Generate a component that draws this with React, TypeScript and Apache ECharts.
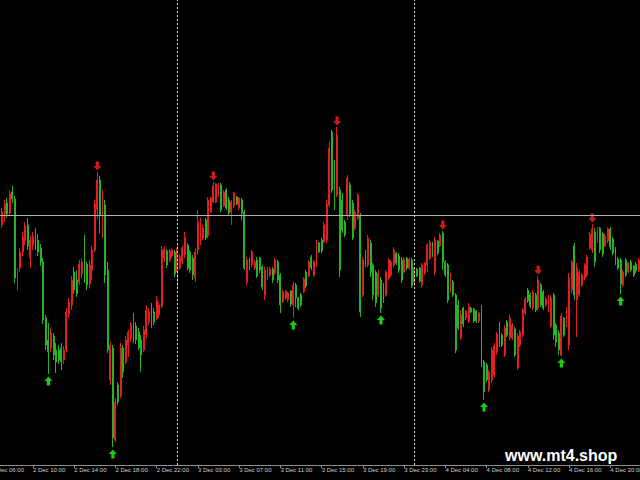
import React, { useEffect, useRef } from "react";
import * as echarts from "echarts";

// ---- Data (M15 bars, prices in points) ----
const opens = [
  237,243,236,233,240,251,262,252,273,266,
  182,197,213,225,240,207,220,229,225,217,
  203,147,125,117,129,115,115,117,105,115,
  151,160,193,185,183,191,217,201,181,195,
  215,255,285,233,260,195,85,117,25,80,
  69,117,103,120,127,149,139,133,125,115,
  130,143,159,153,147,150,159,207,214,205,
  209,213,193,197,203,210,220,213,207,187,
  215,225,227,245,229,253,263,263,269,280,
  259,275,265,253,259,268,257,265,253,183,
  205,200,197,205,207,198,170,187,190,196,
  192,203,190,163,167,165,174,160,180,167,
  170,173,193,189,208,190,200,222,225,223,
  225,260,333,300,270,275,265,243,250,280,
  262,237,247,250,170,213,200,222,200,193,
  170,185,178,170,187,190,200,212,209,205,
  193,207,197,205,183,196,197,180,192,200,
  207,222,193,224,219,232,203,200,173,183,
  170,160,127,157,147,144,157,156,154,144,
  158,103,100,75,85,90,113,140,130,110,
  143,127,127,136,97,120,130,152,175,170,
  157,170,157,180,173,160,155,139,170,140,
  132,110,147,140,120,175,219,165,170,180,
  187,190,217,215,233,223,237,231,219,224,
  236,226,216,206,205,180,205,193,203,199,
  201,195,
];
const closes = [
  243,236,241,247,253,261,251,271,266,187,
  193,213,228,239,219,225,229,219,213,203,
  145,120,113,132,110,103,105,103,115,153,
  163,185,175,171,201,203,193,180,200,215,
  261,285,250,265,190,115,120,27,63,63,
  117,93,125,133,140,127,125,117,110,135,
  155,153,140,143,165,160,215,216,200,214,
  215,191,217,208,217,227,197,195,190,213,
  243,239,237,227,265,267,279,281,280,255,
  273,257,252,263,272,261,267,252,197,205,
  197,213,203,189,195,178,195,197,196,185,
  205,185,160,173,174,172,161,180,167,157,
  160,186,179,203,197,203,223,213,214,240,
  261,317,275,260,330,195,235,230,287,250,
  227,253,270,153,205,200,227,193,170,162,
  191,157,165,193,205,203,215,202,195,185,
  206,197,206,179,197,189,184,200,202,220,
  223,210,225,212,230,203,190,165,189,170,
  115,137,150,141,154,159,153,144,144,152,
  103,73,85,93,115,119,131,120,120,137,
  130,147,140,110,129,133,155,166,164,159,
  173,155,185,160,157,166,168,167,130,123,
  115,149,130,156,187,203,170,197,193,190,
  200,208,231,236,203,235,215,211,229,236,
  218,212,202,197,181,193,190,202,195,190,
  194,205,
];
const lows = [
  233,232,231,229,237,243,247,249,262,182,
  175,193,209,220,215,197,215,215,209,199,
  141,115,91,113,105,92,101,95,101,113,
  147,155,171,168,180,187,182,175,177,185,
  213,247,232,227,182,112,80,18,23,60,
  67,87,101,108,123,122,121,115,93,113,
  127,140,137,140,145,147,157,203,197,203,
  207,188,177,195,201,207,195,192,185,183,
  210,220,225,225,227,252,262,262,268,253,
  258,255,250,240,257,260,255,245,195,180,
  195,198,195,187,192,175,165,185,188,182,
  190,182,152,162,165,163,158,147,158,155,
  158,172,177,188,195,188,198,212,212,222,
  222,258,272,255,268,188,232,228,245,248,
  225,235,245,148,168,198,198,188,165,158,
  168,152,162,168,185,188,198,200,192,182,
  192,195,195,177,182,188,182,177,190,193,
  205,208,190,210,218,195,188,162,172,168,
  112,135,125,138,145,142,152,142,142,142,
  98,65,83,73,82,88,110,118,118,108,
  128,125,125,108,95,118,128,150,162,157,
  155,153,155,158,155,158,153,137,125,118,
  110,109,128,138,115,172,165,128,168,178,
  185,188,215,212,198,222,212,208,218,222,
  215,210,200,195,171,178,188,192,193,188,
  192,193,
];
const highs = [
  246,246,244,251,257,265,267,275,279,269,
  197,217,233,243,247,229,233,237,231,221,
  207,150,142,137,132,122,120,122,119,157,
  167,189,198,195,205,207,230,203,205,219,
  265,293,289,275,265,203,123,120,67,83,
  122,120,129,135,143,152,143,137,130,139,
  160,157,162,157,169,163,219,219,216,216,
  217,215,222,211,219,233,222,215,210,217,
  255,247,240,247,268,268,283,282,282,282,
  275,277,268,265,273,269,268,267,255,208,
  207,215,205,208,208,200,198,198,198,198,
  207,205,192,175,175,173,175,183,182,168,
  172,188,195,205,210,205,225,223,227,243,
  265,323,335,305,338,278,272,245,290,283,
  265,255,272,252,208,215,230,225,202,195,
  195,188,182,195,207,205,218,213,212,208,
  208,208,207,207,198,197,198,202,203,222,
  225,223,228,225,232,234,205,202,192,185,
  172,165,155,158,155,162,158,157,155,153,
  160,105,102,95,118,122,133,143,132,140,
  145,150,142,138,132,135,157,168,177,172,
  175,172,189,182,175,168,170,170,172,142,
  135,152,148,158,192,205,222,202,195,192,
  202,210,233,241,237,238,238,233,232,238,
  238,228,218,208,207,195,207,203,205,200,
  203,207,
];
// indicator signals: bar indices of buy (up arrow) and sell (down arrow)
const buySignals = [22, 47, 117, 151, 191, 221, 244];
const sellSignals = [41, 86, 134, 175, 212, 233];
// horizontal level line
const levelLine = 250;
// time axis
const startDay = 2;
const startHour = 6;
const monthName = "Dec";
const barMinutes = 15;
const labelEvery = 16;

const pad = (n: number) => (n < 10 ? "0" + n : "" + n);

function buildCategories(n: number): string[] {
  const out: string[] = [];
  let day = startDay;
  let minutes = startHour * 60;
  for (let i = 0; i < n; i++) {
    out.push(`${day} ${monthName} ${pad(Math.floor(minutes / 60))}:${pad(minutes % 60)}`);
    minutes += barMinutes;
    if (minutes >= 24 * 60) {
      day += 1;
      minutes = 60; // broker session restarts at 01:00
    }
  }
  return out;
}

const RED = "#e41e1e";
const GREEN = "#25b425";
const UP_ARROW = "path://M4,0 L8,4.5 L5.6,4.5 L5.6,9 L2.4,9 L2.4,4.5 L0,4.5 Z";
const DOWN_ARROW = "path://M4,9 L8,4.5 L5.6,4.5 L5.6,0 L2.4,0 L2.4,4.5 L0,4.5 Z";

export default function App() {
  const ref = useRef<HTMLDivElement>(null);

  useEffect(() => {
    if (!ref.current) return;
    const chart = echarts.init(ref.current, undefined, { renderer: "svg" });
    const categories = buildCategories(opens.length);
    const ohlc = opens.map((o, i) => [o, closes[i], lows[i], highs[i]]);
    const dayOf = (s: string) => s.split(" ")[0];
    const separators = categories.filter((c, i) => i > 0 && dayOf(c) !== dayOf(categories[i - 1]));
    const showTick = (i: number) => i % labelEvery === 0;

    chart.setOption({
      animation: false,
      backgroundColor: "#000000",
      grid: {
        left: -9.6,
        right: 0,
        top: 0,
        bottom: 15,
        containLabel: false,
        outerBoundsMode: "none",
      },
      xAxis: {
        type: "category",
        data: categories,
        boundaryGap: true,
        axisLine: { show: true, lineStyle: { color: "#8c8c8c", width: 1 } },
        axisTick: {
          show: true,
          alignWithLabel: true,
          length: 3,
          interval: showTick,
          lineStyle: { color: "#8c8c8c" },
        },
        axisLabel: {
          interval: showTick,
          align: "left",
          margin: 2,
          color: "#cccccc",
          fontSize: 6,
          fontFamily: "Liberation Sans, Arial, sans-serif",
          hideOverlap: false,
        },
        splitLine: { show: false },
      },
      yAxis: { type: "value", min: 0, max: 465, show: false },
      series: [
        {
          type: "candlestick",
          data: ohlc,
          barWidth: 1.4,
          itemStyle: {
            color: RED,
            color0: GREEN,
            borderColor: RED,
            borderColor0: GREEN,
            borderWidth: 1,
          },
          markLine: {
            silent: true,
            symbol: ["none", "none"],
            animation: false,
            label: { show: false },
            data: [
              { yAxis: levelLine, lineStyle: { color: "#b0b0b0", width: 1, type: "solid" } },
              ...separators.map((c) => ({
                xAxis: c,
                lineStyle: { color: "#d8d8d8", width: 1, type: [2, 2] },
              })),
            ],
          },
        },
        {
          type: "scatter",
          data: buySignals.map((i) => [categories[i], lows[i]]),
          symbol: UP_ARROW,
          symbolSize: [8, 9],
          symbolOffset: [0, 7],
          itemStyle: { color: "#22ff22" },
          silent: true,
        },
        {
          type: "scatter",
          data: sellSignals.map((i) => [categories[i], highs[i]]),
          symbol: DOWN_ARROW,
          symbolSize: [8, 9],
          symbolOffset: [0, -6],
          itemStyle: { color: "#ff2222" },
          silent: true,
        },
      ],
      graphic: [
        {
          type: "text",
          x: 505,
          y: 455,
          z: 100,
          style: {
            text: "www.mt4.shop",
            fill: "#ffffff",
            font: "bold 16px 'Liberation Sans', Arial, sans-serif",
            verticalAlign: "middle",
            textVerticalAlign: "middle",
          },
        },
      ],
    });
    return () => chart.dispose();
  }, []);

  return (
    <div
      ref={ref}
      style={{ position: "fixed", left: 0, top: 0, width: 640, height: 480, background: "#000" }}
    />
  );
}
